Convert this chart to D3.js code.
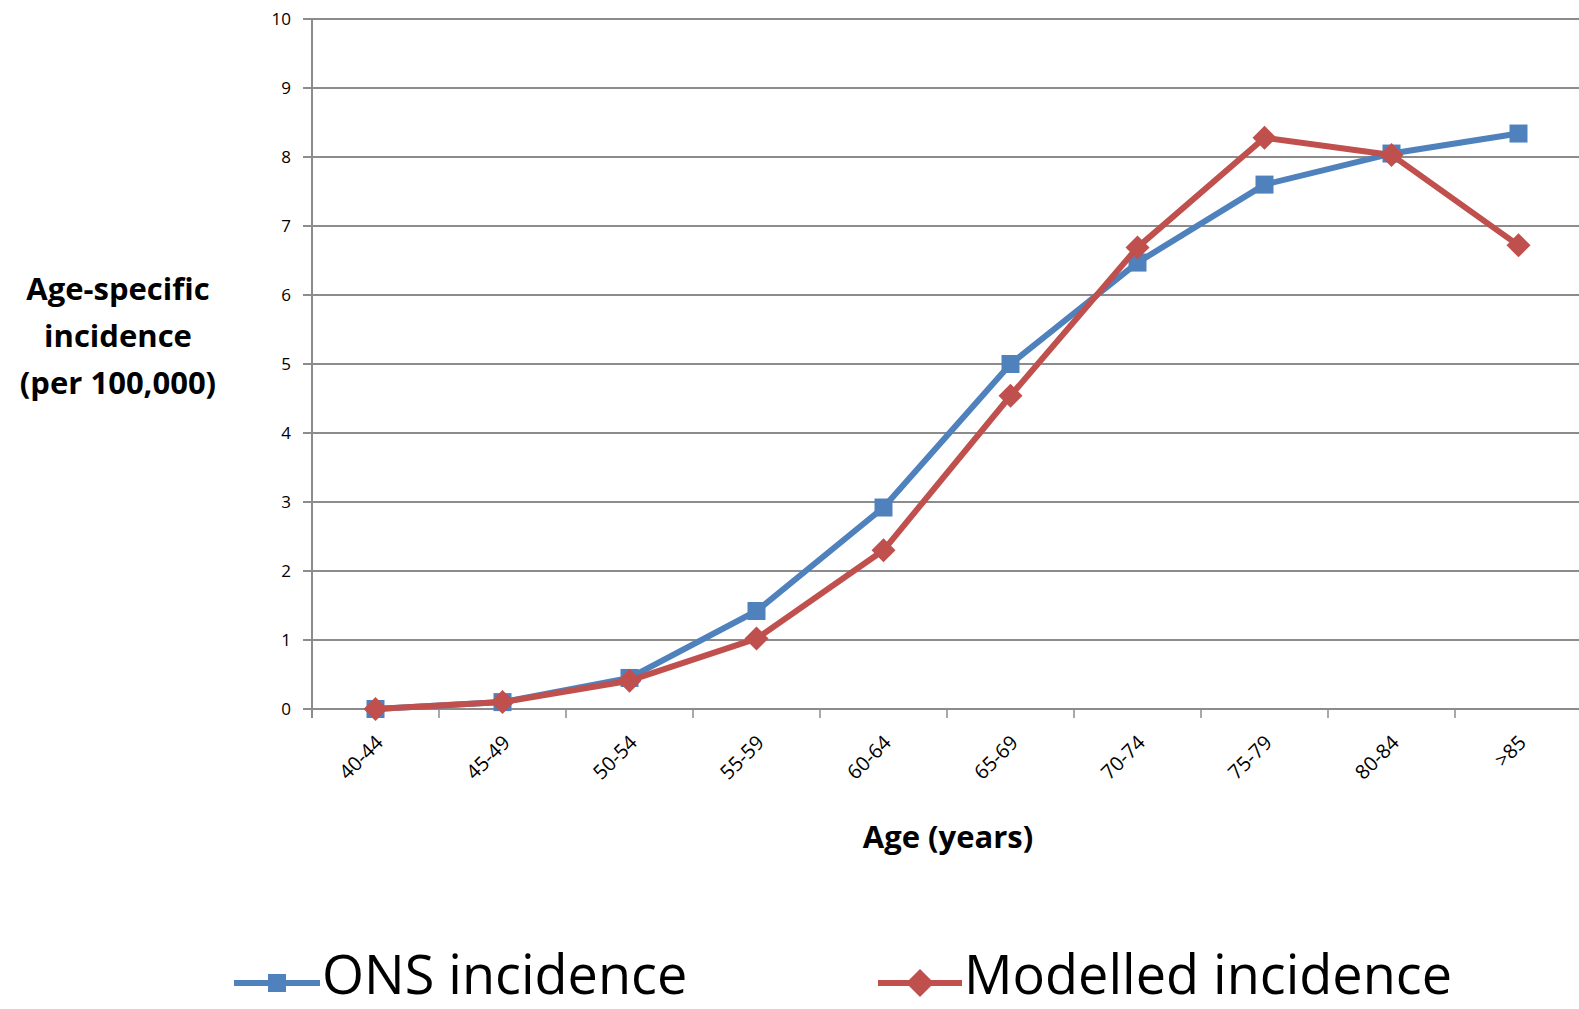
<!DOCTYPE html>
<html>
<head>
<meta charset="utf-8">
<script src="https://cdn.jsdelivr.net/npm/d3@7"></script>
<style>
  body { margin: 0; background: #fff; }
  svg { display: block; }
</style>
</head>
<body>
<div id="chart"></div>
<script>
// Age bands along the x axis
const ageBands = ["40-44", "45-49", "50-54", "55-59", "60-64", "65-69", "70-74", "75-79", "80-84", ">85"];
// ONS observed incidence (per 100,000)
const onsValues = [0, 0.1, 0.45, 1.42, 2.92, 5.0, 6.47, 7.6, 8.05, 8.34];
// Modelled incidence (per 100,000)
const modelValues = [0, 0.1, 0.41, 1.02, 2.3, 4.54, 6.69, 8.28, 8.03, 6.72];
const yTicks = [0, 1, 2, 3, 4, 5, 6, 7, 8, 9, 10];

const W = 1579, H = 1009;
const margin = { top: 19, right: -3, bottom: 300, left: 312 };
const width = W - margin.left - margin.right;
const height = H - margin.top - margin.bottom;

const blue = "#4F81BD", red = "#C0504D", gridCol = "#8c8c8c";

const svg = d3.select("#chart").append("svg")
    .attr("width", W)
    .attr("height", H);

const g = svg.append("g")
    .attr("transform", `translate(${margin.left},${margin.top})`);

// Scales
const x = d3.scaleBand().domain(ageBands).range([0, width]);
const y = d3.scaleLinear().domain([0, 10]).range([height, 0]);

// Horizontal gridlines with a small tick to the left
g.selectAll("line.grid")
    .data(yTicks)
    .enter().append("line")
    .attr("class", "grid")
    .attr("x1", -9)
    .attr("x2", width)
    .attr("y1", d => y(d))
    .attr("y2", d => y(d))
    .attr("stroke", gridCol)
    .attr("stroke-width", 2);

// Y tick labels
g.selectAll("text.ytick")
    .data(yTicks)
    .enter().append("text")
    .attr("class", "ytick")
    .attr("x", -21)
    .attr("y", d => y(d))
    .attr("dy", "0.35em")
    .attr("text-anchor", "end")
    .style("font-family", "Open Sans, sans-serif")
    .style("font-size", "17px")
    .style("fill", "#000")
    .text(d => d);

// Y axis line
g.append("line")
    .attr("x1", 0).attr("x2", 0)
    .attr("y1", 0).attr("y2", height + 9)
    .attr("stroke", gridCol)
    .attr("stroke-width", 2);

// X axis category separators
const bounds = ageBands.map(d => x(d) + x.bandwidth());
g.selectAll("line.xtick")
    .data(bounds)
    .enter().append("line")
    .attr("class", "xtick")
    .attr("x1", d => d).attr("x2", d => d)
    .attr("y1", height).attr("y2", height + 9)
    .attr("stroke", gridCol)
    .attr("stroke-width", 1.5);

// X tick labels, rotated
g.selectAll("text.xlab")
    .data(ageBands)
    .enter().append("text")
    .attr("class", "xlab")
    .attr("transform", d => `translate(${x(d) + x.bandwidth() / 2 + 4},${height + 30}) rotate(-45)`)
    .attr("text-anchor", "end")
    .attr("dy", "0.35em")
    .style("font-family", "Open Sans, sans-serif")
    .style("font-size", "20px")
    .style("fill", "#000")
    .text(d => d);

const cx = d => x(d) + x.bandwidth() / 2;

const line = d3.line()
    .x((d, i) => cx(ageBands[i]))
    .y(d => y(d));

// ONS series
g.append("path")
    .datum(onsValues)
    .attr("d", line)
    .attr("fill", "none")
    .attr("stroke", blue)
    .attr("stroke-width", 6)
    .attr("stroke-linejoin", "round");

g.selectAll("rect.ons")
    .data(onsValues)
    .enter().append("rect")
    .attr("class", "ons")
    .attr("x", (d, i) => cx(ageBands[i]) - 9)
    .attr("y", d => y(d) - 9)
    .attr("width", 18)
    .attr("height", 18)
    .attr("fill", blue);

// Modelled series
g.append("path")
    .datum(modelValues)
    .attr("d", line)
    .attr("fill", "none")
    .attr("stroke", red)
    .attr("stroke-width", 6)
    .attr("stroke-linejoin", "round");

const diamond = s => `M0,${-s} L${s},0 L0,${s} L${-s},0 Z`;

g.selectAll("path.model")
    .data(modelValues)
    .enter().append("path")
    .attr("class", "model")
    .attr("transform", (d, i) => `translate(${cx(ageBands[i])},${y(d)})`)
    .attr("d", diamond(12))
    .attr("fill", red);

// Axis titles
svg.append("text")
    .attr("x", 948)
    .attr("y", 837)
    .attr("dy", "0.35em")
    .attr("text-anchor", "middle")
    .style("font-family", "Open Sans, sans-serif")
    .style("font-weight", "bold")
    .style("font-size", "31px")
    .text("Age (years)");

const yTitle = ["Age-specific", "incidence", "(per 100,000)"];
svg.selectAll("text.ytitle")
    .data(yTitle)
    .enter().append("text")
    .attr("class", "ytitle")
    .attr("x", 118)
    .attr("y", (d, i) => 289 + i * 47)
    .attr("dy", "0.35em")
    .attr("text-anchor", "middle")
    .style("font-family", "Open Sans, sans-serif")
    .style("font-weight", "bold")
    .style("font-size", "31px")
    .text(d => d);

// Legend
const legendY = 983;
const legend = [
    { name: "ONS incidence", color: blue, x0: 234, x1: 320, shape: "square" },
    { name: "Modelled incidence", color: red, x0: 878, x1: 962, shape: "diamond" }
];

legend.forEach(l => {
    svg.append("line")
        .attr("x1", l.x0).attr("x2", l.x1)
        .attr("y1", legendY).attr("y2", legendY)
        .attr("stroke", l.color)
        .attr("stroke-width", 6);
    const mx = (l.x0 + l.x1) / 2;
    if (l.shape === "square") {
        svg.append("rect")
            .attr("x", mx - 9).attr("y", legendY - 9)
            .attr("width", 18).attr("height", 18)
            .attr("fill", l.color);
    } else {
        svg.append("path")
            .attr("transform", `translate(${mx},${legendY})`)
            .attr("d", diamond(14))
            .attr("fill", l.color);
    }
    svg.append("text")
        .attr("x", l.x1 + 2)
        .attr("y", 994)
        .style("font-family", "Open Sans, sans-serif")
        .style("font-size", "54px")
        .text(l.name);
});
</script>
</body>
</html>
